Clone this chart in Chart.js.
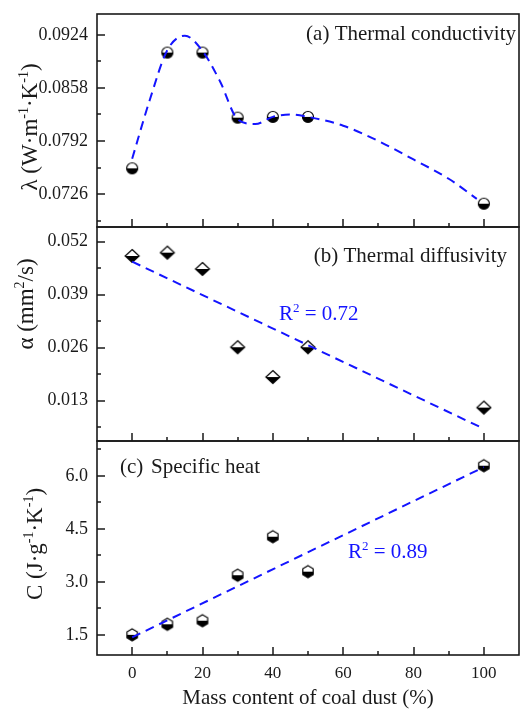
<!DOCTYPE html>
<html><head><meta charset="utf-8">
<script src="https://cdn.jsdelivr.net/npm/chart.js@4/dist/chart.umd.min.js"></script>
<style>
html,body{margin:0;padding:0;background:#fff;}
#wrap{position:relative;width:522px;height:709px;background:#fff;}
#wrap canvas{position:absolute;left:0;top:0;}
</style></head><body>
<div id="wrap">
<canvas id="ca" width="522" height="709"></canvas>
<canvas id="cb" width="522" height="709"></canvas>
<canvas id="cc" width="522" height="709"></canvas>
</div>
<script>
// ---------- data ----------
const massContent = [0, 10, 20, 30, 40, 50, 100];
const conductivity = [0.0758, 0.0902, 0.0902, 0.0821, 0.0822, 0.0822, 0.0714];
const conductivityCurveX = [0, 5, 10, 15, 20, 25, 30, 35, 40, 45, 50, 60, 70, 80, 90, 98];
const conductivityCurveY = [0.0770, 0.0843, 0.0905, 0.0923, 0.0904, 0.0866, 0.0819, 0.0813, 0.0822, 0.0825, 0.0822, 0.0811, 0.0792, 0.0769, 0.0745, 0.0720];
const diffusivity = [0.0485, 0.0493, 0.0453, 0.0261, 0.0188, 0.0261, 0.0113];
const diffusivityFitX = [0, 100];
const diffusivityFitY = [0.0471, 0.0061];
const specificHeat = [1.50, 1.80, 1.90, 3.19, 4.28, 3.29, 6.29];
const specificHeatFitX = [0, 100];
const specificHeatFitY = [1.43, 6.25];

const xTicks = [0, 20, 40, 60, 80, 100];
const xMinorTicks = [10, 30, 50, 70, 90];
const conductivityTicks = [0.0726, 0.0792, 0.0858, 0.0924];
const conductivityMinorTicks = [0.0693, 0.0759, 0.0825, 0.0891];
const diffusivityTicks = [0.013, 0.026, 0.039, 0.052];
const diffusivityMinorTicks = [0.0065, 0.0195, 0.0325, 0.0455];
const heatTicks = [1.5, 3.0, 4.5, 6.0];
const heatMinorTicks = [2.25, 3.75, 5.25, 6.75];

const panelTitles = ['(a) Thermal conductivity', '(b) Thermal diffusivity', '(c)', 'Specific heat'];
const xTitle = 'Mass content of coal dust (%)';
const r2Labels = ['0.72', '0.89'];

// ---------- style ----------
const FONT = "'Liberation Serif','Times New Roman',serif";
const BLUE = '#1414ff';
const INK = '#1a1a1a';

function makeMarker(shape) {
  const s = 18, m = s / 2;
  const c = document.createElement('canvas');
  c.width = s; c.height = s;
  const g = c.getContext('2d');
  const path = () => {
    g.beginPath();
    if (shape === 'circle') {
      g.arc(m, m, 5.5, 0, Math.PI * 2);
    } else if (shape === 'diamond') {
      g.moveTo(m, m - 6.5); g.lineTo(m + 7, m); g.lineTo(m, m + 6.5); g.lineTo(m - 7, m); g.closePath();
    } else {
      for (let i = 0; i < 6; i++) {
        const a = -Math.PI / 2 + i * Math.PI / 3;
        const px = m + 6 * Math.cos(a), py = m + 6 * Math.sin(a);
        if (i === 0) g.moveTo(px, py); else g.lineTo(px, py);
      }
      g.closePath();
    }
  };
  g.save(); path(); g.fillStyle = '#fff'; g.fill(); g.clip();
  g.fillStyle = '#000'; g.fillRect(0, m, s, s); g.restore();
  path(); g.lineWidth = 1.2; g.strokeStyle = '#000'; g.stroke();
  return c;
}

function drawRich(ctx, parts, x, y, size, align, rotate, color) {
  const big = size + 'px ' + FONT, small = Math.round(size * 0.6) + 'px ' + FONT;
  const widths = parts.map(p => { ctx.font = p[1] ? small : big; return ctx.measureText(p[0]).width; });
  const total = widths.reduce((a, b) => a + b, 0);
  ctx.save();
  ctx.translate(x, y);
  if (rotate) ctx.rotate(-Math.PI / 2);
  ctx.fillStyle = color || INK;
  ctx.textBaseline = 'alphabetic';
  ctx.textAlign = 'left';
  let cx = align === 'center' ? -total / 2 : align === 'right' ? -total : 0;
  parts.forEach((p, i) => {
    ctx.font = p[1] ? small : big;
    ctx.fillText(p[0], cx, p[1] ? -size * 0.4 : 0);
    cx += widths[i];
  });
  ctx.restore();
}

function buildPanel(id, cfg) {
  const points = massContent.map((x, i) => ({ x, y: cfg.values[i] }));
  const line = cfg.lineX.map((x, i) => ({ x, y: cfg.lineY[i] }));
  const deco = {
    id: 'deco' + id,
    afterDraw(chart) {
      const { ctx, chartArea: a } = chart;
      const xs = chart.scales.x, ys = chart.scales.y;
      ctx.save();
      ctx.strokeStyle = INK;
      ctx.lineWidth = 1.5;
      ctx.beginPath();
      xTicks.forEach(v => { const p = Math.round(xs.getPixelForValue(v)); ctx.moveTo(p, a.bottom); ctx.lineTo(p, a.bottom - 8); });
      xMinorTicks.forEach(v => { const p = Math.round(xs.getPixelForValue(v)); ctx.moveTo(p, a.bottom); ctx.lineTo(p, a.bottom - 4); });
      cfg.ticks.forEach(v => { const p = Math.round(ys.getPixelForValue(v)); ctx.moveTo(a.left, p); ctx.lineTo(a.left + 8, p); });
      cfg.minor.forEach(v => { const p = Math.round(ys.getPixelForValue(v)); ctx.moveTo(a.left, p); ctx.lineTo(a.left + 4, p); });
      ctx.stroke();
      ctx.lineWidth = 1.6;
      ctx.strokeRect(a.left, a.top, a.right - a.left, a.bottom - a.top);
      ctx.restore();
      cfg.texts(ctx);
    }
  };
  return new Chart(document.getElementById(id), {
    type: 'scatter',
    data: {
      datasets: [
        { data: line, showLine: true, borderColor: BLUE, borderWidth: 2, borderDash: [9, 6],
          pointRadius: 0, cubicInterpolationMode: 'monotone', fill: false, order: 0 },
        { data: points, pointStyle: cfg.marker, pointRadius: 9, showLine: false, order: 1 }
      ]
    },
    options: {
      responsive: false, animation: false, events: [], devicePixelRatio: 1,
      layout: { autoPadding: false, padding: { top: cfg.top, bottom: cfg.bottom, left: 0, right: 3 } },
      plugins: { legend: { display: false }, tooltip: { enabled: false } },
      scales: {
        x: {
          type: 'linear', min: -10, max: 110, display: cfg.showX,
          afterBuildTicks: s => { s.ticks = xTicks.map(v => ({ value: v })); },
          afterFit: s => { if (cfg.showX) s.height = 54; s.paddingLeft = 0; s.paddingRight = 0; },
          grid: { display: false, drawTicks: false }, border: { display: false },
          ticks: { padding: 8, color: INK, font: { family: FONT, size: 17 } },
          title: { display: true, text: xTitle, color: INK, padding: { top: 0, bottom: 0 },
                   font: { family: FONT, size: 21, lineHeight: 1.0 } }
        },
        y: {
          type: 'linear', min: cfg.min, max: cfg.max,
          afterBuildTicks: s => { s.ticks = cfg.ticks.map(v => ({ value: v })); },
          afterFit: s => { s.width = 97; s.paddingTop = 0; s.paddingBottom = 0; },
          grid: { display: false, drawTicks: false }, border: { display: false },
          ticks: { padding: 9, color: INK, font: { family: FONT, size: 18 },
                   callback: v => Number(v).toFixed(cfg.dec) }
        }
      }
    },
    plugins: [deco]
  });
}

buildPanel('ca', {
  values: conductivity, lineX: conductivityCurveX, lineY: conductivityCurveY,
  marker: makeMarker('circle'), min: 0.0685, max: 0.0950, ticks: conductivityTicks,
  minor: conductivityMinorTicks, dec: 4, top: 14, bottom: 709 - 227, showX: false,
  texts: ctx => {
    drawRich(ctx, [[panelTitles[0], false]], 516, 40, 21, 'right', false);
    drawRich(ctx, [['λ (W·m', false], ['-1', true], ['·K', false], ['-1', true], [')', false]], 37, 127, 23, 'center', true);
  }
});
buildPanel('cb', {
  values: diffusivity, lineX: diffusivityFitX, lineY: diffusivityFitY,
  marker: makeMarker('diamond'), min: 0.0031, max: 0.0556, ticks: diffusivityTicks,
  minor: diffusivityMinorTicks, dec: 3, top: 227, bottom: 709 - 441, showX: false,
  texts: ctx => {
    drawRich(ctx, [[panelTitles[1], false]], 507, 262, 21, 'right', false);
    drawRich(ctx, [['R', false], ['2', true], [' = ' + r2Labels[0], false]], 279, 320, 21, 'left', false, BLUE);
    drawRich(ctx, [['α (mm', false], ['2', true], ['/s)', false]], 33, 304, 23, 'center', true);
  }
});
buildPanel('cc', {
  values: specificHeat, lineX: specificHeatFitX, lineY: specificHeatFitY,
  marker: makeMarker('hexagon'), min: 0.93, max: 6.99, ticks: heatTicks,
  minor: heatMinorTicks, dec: 1, top: 441, bottom: 0, showX: true,
  texts: ctx => {
    drawRich(ctx, [[panelTitles[2], false]], 120, 473, 21, 'left', false);
    drawRich(ctx, [[panelTitles[3], false]], 151, 473, 21, 'left', false);
    drawRich(ctx, [['R', false], ['2', true], [' = ' + r2Labels[1], false]], 348, 558, 21, 'left', false, BLUE);
    drawRich(ctx, [['C (J·g', false], ['-1', true], ['·K', false], ['-1', true], [')', false]], 42, 544, 23, 'center', true);
  }
});
</script>
</body></html>
